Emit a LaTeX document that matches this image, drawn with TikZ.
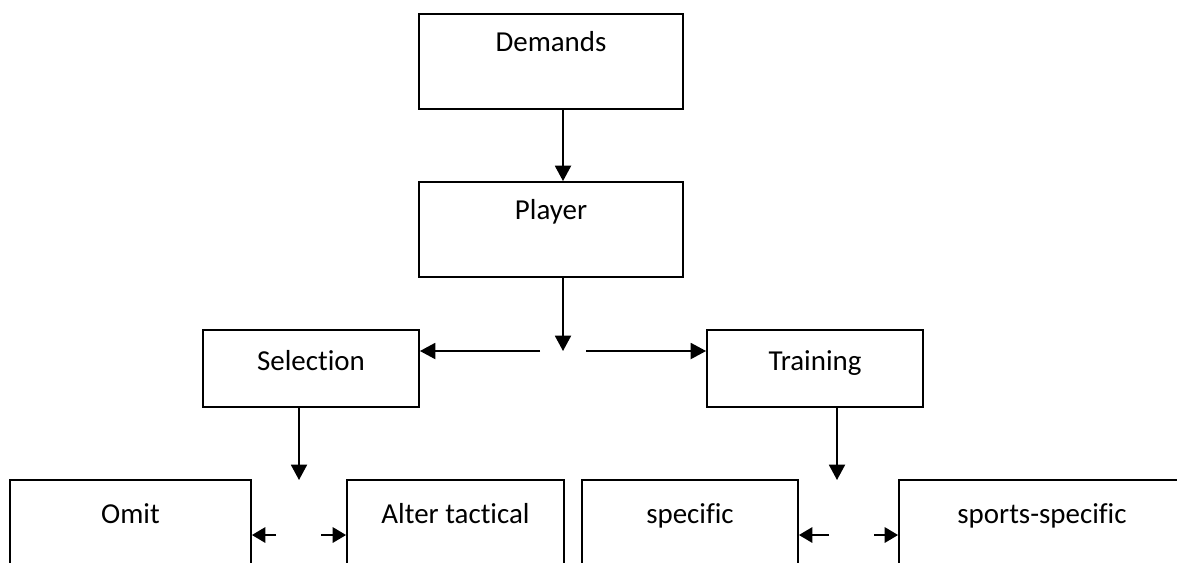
\documentclass[tikz,border=0pt]{standalone}
\usepackage{fontspec}
\setmainfont[Ligatures=NoCommon]{Carlito}
\usetikzlibrary{arrows.meta,calc}
\begin{document}
\begin{tikzpicture}[x=0.75pt,y=-0.75pt,
  box/.style={draw=black,line width=1.4pt,rectangle,inner sep=0pt},
  lbl/.style={font=\fontsize{21.7}{26}\selectfont,anchor=base,inner sep=0pt},
  arr/.style={line width=1.4pt,-{Triangle[length=11.5pt,width=12pt]}},
  sarr/.style={line width=1.4pt,-{Triangle[length=10pt,width=11.5pt]}}]
\useasboundingbox (0,0) rectangle (1177,562);
\clip (0,0) rectangle (1177,562);
% boxes
\node[box,minimum width=198pt,minimum height=71.25pt,
  label={[lbl,yshift=-28.5pt]north:Demands}] (dem) at (551,61.5) {};
\node[box,minimum width=198pt,minimum height=71.25pt,
  label={[lbl,yshift=-28.5pt]north:Player}] (pla) at (551,229.5) {};
\node[box,minimum width=162pt,minimum height=57.75pt,
  label={[lbl,yshift=-30.75pt]north:Selection}] (sel) at (311,368.5) {};
\node[box,minimum width=162pt,minimum height=57.75pt,
  label={[lbl,yshift=-30.75pt]north:Training}] (tra) at (815,368.5) {};
\node[box,minimum width=180.75pt,minimum height=120pt,
  label={[lbl,yshift=-33pt]north:Omit}] (omi) at (130.5,560) {};
\node[box,minimum width=162.75pt,minimum height=120pt,
  label={[lbl,yshift=-33pt]north:Alter tactical}] (alt) at (455.5,560) {};
\node[box,minimum width=162pt,minimum height=120pt,
  label={[lbl,yshift=-33pt]north:specific}] (spe) at (690,560) {};
\node[box,minimum width=214.5pt,minimum height=120pt,
  label={[lbl,yshift=-33pt]north:sports-specific}] (spo) at (1042,560) {};
% junction points
\coordinate (j) at (563,351);
\coordinate (jl) at (540,351);
\coordinate (jr) at (586,351);
\coordinate (sd) at (299,480);
\coordinate (sl) at (276,535);
\coordinate (sr) at (321,535);
\coordinate (td) at (837,480);
\coordinate (tl) at (829,535);
\coordinate (tr) at (874,535);
% connectors
\draw[arr] (dem.south -| j) -- (pla.north -| j);
\draw[arr] (pla.south -| j) -- (j);
\draw[arr] (jl) -- (sel.east |- jl);
\draw[arr] (jr) -- (tra.west |- jr);
\draw[arr] (sel.south -| sd) -- (sd);
\draw[arr] (tra.south -| td) -- (td);
\draw[sarr] (sl) -- (omi.east |- sl);
\draw[sarr] (sr) -- (alt.west |- sr);
\draw[sarr] (tl) -- (spe.east |- tl);
\draw[sarr] (tr) -- (spo.west |- tr);
\end{tikzpicture}
\end{document}
